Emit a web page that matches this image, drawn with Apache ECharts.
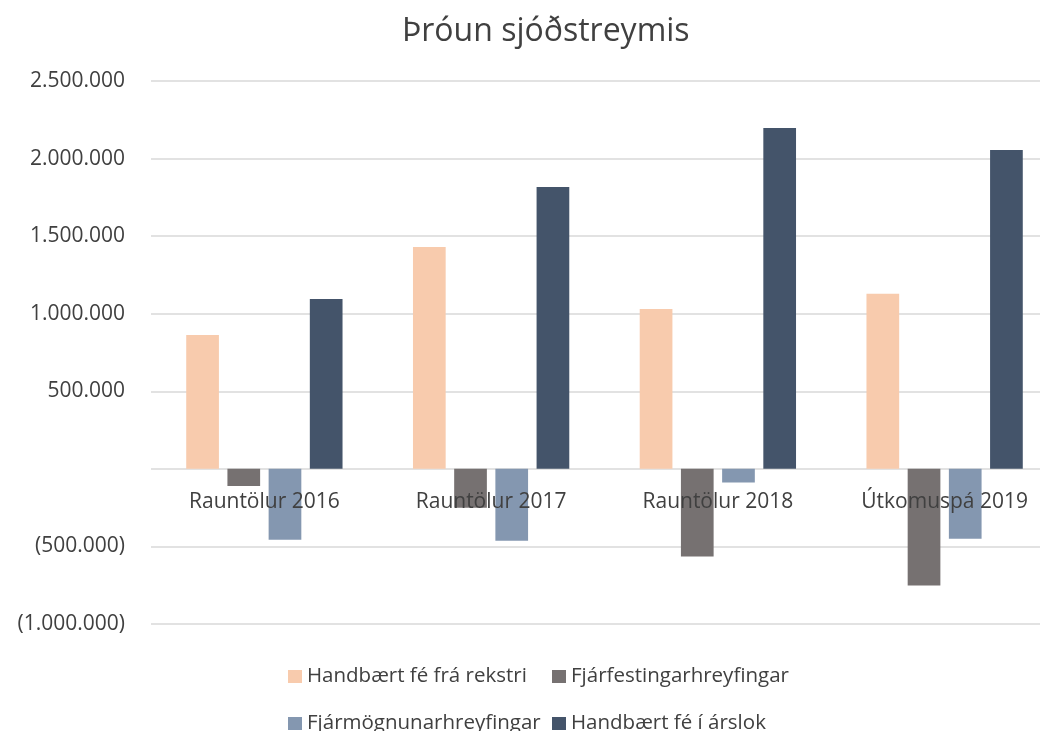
<!DOCTYPE html>
<html><head><meta charset="utf-8">
<script src="https://cdn.jsdelivr.net/npm/echarts@6/dist/echarts.min.js"></script>
<style>html,body{margin:0;padding:0;background:#fff}#c{width:1040px;height:731px}</style>
</head><body><div id="c"></div>
<script>
const categories = ['Rauntölur 2016', 'Rauntölur 2017', 'Rauntölur 2018', 'Útkomuspá 2019'];
const seriesNames = ['Handbært fé frá rekstri', 'Fjárfestingarhreyfingar', 'Fjármögnunarhreyfingar', 'Handbært fé í árslok'];
const rekstur = [863000, 1430000, 1031000, 1128000];
const fjarfesting = [-110000, -250000, -565000, -752000];
const fjarmognun = [-457000, -464000, -88000, -451000];
const arslok = [1095000, 1817000, 2197000, 2055000];
const colors = ['#F8CBAD', '#767171', '#8497B0', '#44546A'];
const yTicks = { min: -1000000, max: 2500000, interval: 500000 };

const font = 'Open Sans, Noto Sans, sans-serif';
function fmt(v) {
  if (v === 0) return '';
  const s = Math.abs(v).toString().replace(/\B(?=(\d{3})+(?!\d))/g, '.');
  return v < 0 ? '(' + s + ')' : s;
}
const values = [rekstur, fjarfesting, fjarmognun, arslok];
const legendPos = [[288, 666], [552, 666], [288, 713], [552, 713]];

const chart = echarts.init(document.getElementById('c'), null, {renderer: 'canvas'});
chart.setOption({
  animation: false,
  backgroundColor: '#fff',
  title: {
    text: 'Þróun sjóðstreymis', left: 397, top: 11,
    textStyle: {fontFamily: font, fontSize: 32, fontWeight: 'normal', color: '#404040'}
  },
  legend: seriesNames.map((n, i) => ({
    data: [n], left: legendPos[i][0], top: legendPos[i][1], padding: 0,
    itemWidth: 14, itemHeight: 13, icon: 'rect',
    textStyle: {fontFamily: font, fontSize: 20.5, color: '#404040'}
  })),
  grid: {left: 151, width: 907, top: 81, height: 543, containLabel: false, outerBoundsMode: 'none'},
  xAxis: {
    type: 'category', data: categories, z: 10,
    axisLine: {show: false}, axisTick: {show: false},
    axisLabel: {fontFamily: font, fontSize: 21, color: '#404040', margin: -132}
  },
  yAxis: {
    type: 'value', min: yTicks.min, max: yTicks.max, interval: yTicks.interval,
    axisLine: {show: false}, axisTick: {show: false},
    axisLabel: {fontFamily: font, fontSize: 21, color: '#404040', margin: 26, formatter: fmt},
    splitLine: {lineStyle: {color: '#d9d9d9', width: 1.5}}
  },
  series: seriesNames.map((n, i) => ({
    name: n, type: 'bar', data: values[i], barWidth: 32.7, barGap: '26%',
    itemStyle: {color: colors[i]}
  }))
});
</script></body></html>
